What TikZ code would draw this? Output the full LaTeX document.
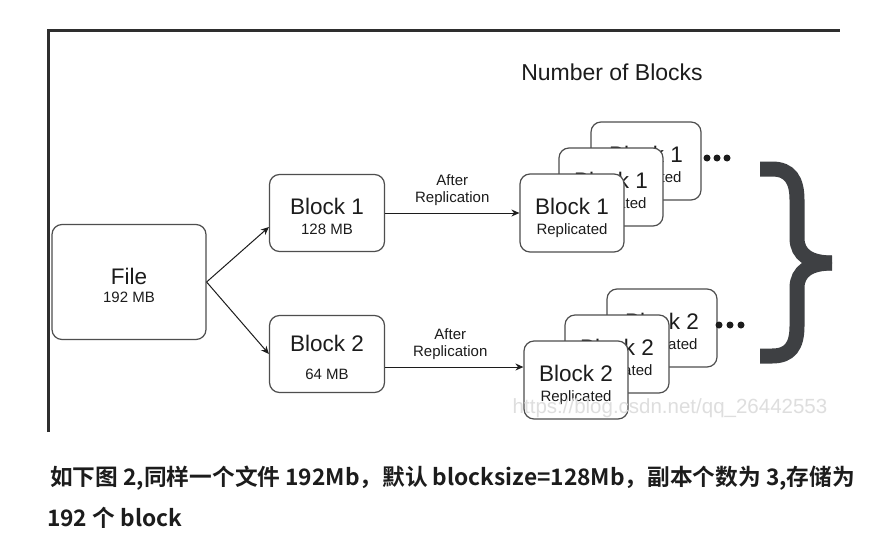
\documentclass[tikz,border=0pt]{standalone}
\usepackage{fontspec}
\setmainfont{Liberation Sans}
\newfontfamily\cjkfont{Noto Sans CJK SC Bold}
\usetikzlibrary{arrows.meta}

\definecolor{boxline}{HTML}{4E4E4E}
\definecolor{ink}{HTML}{1C1C1C}
\definecolor{bracegray}{HTML}{3E4043}
\definecolor{framegray}{HTML}{2E2E2E}

\newcommand\bigfont{\fontsize{22.5}{26}\selectfont}
\newcommand\subfont{\fontsize{15}{17}\selectfont}
\newcommand\topgap{\rule{0pt}{22pt}}

\tikzset{
  blockbox/.style={draw=boxline, line width=1.2pt, rounded corners=10pt, fill=white,
    text=ink, align=center, font=\bigfont, inner sep=0pt, text depth=-5pt,
    minimum width=115pt, minimum height=77pt},
  repbox/.style={blockbox, text depth=-6pt, minimum width=104pt, minimum height=78pt},
  arr/.style={draw=ink, line width=1pt, -{Stealth[length=8pt,width=7pt]}},
  note/.style={text=ink, align=center, font=\subfont, inner sep=1pt},
  brace/.style={draw=bracegray, line width=15pt, line cap=butt}
}

\begin{document}
\begin{tikzpicture}[x=1pt, y=-1pt]
\useasboundingbox[fill=white] (0,0) rectangle (882,533);

% frame of the screenshot
\draw[framegray, line width=3pt] (48.5,432) -- (48.5,30) -- (840,30);

\node[text=ink, font=\fontsize{23}{26}\selectfont] (title) at (612,72) {Number of Blocks};

% file and its blocks
\node[blockbox, text depth=-7pt, minimum width=154pt, minimum height=115pt] (file) at (129,282)
  {\topgap File\\[-8pt]{\subfont 192 MB}};
\node[blockbox] (b1) at (327,213) {\topgap Block 1\\[-6pt]{\subfont 128 MB}};
\node[blockbox] (b2) at (327,354) {\topgap Block 2\\[2pt]{\subfont 64 MB}};

\draw[arr] (file.east) -- ([yshift=-14pt]b1.west);
\draw[arr] (file.east) -- (b2.west);

% replicated copies, back to front
\node[repbox, minimum width=110pt] (r1a) at (646,161) {\topgap Block 1\\[-6pt]{\subfont Replicated}};
\node[repbox] (r1b) at (611,187) {\topgap Block 1\\[-6pt]{\subfont Replicated}};
\node[repbox] (r1c) at (572,213) {\topgap Block 1\\[-6pt]{\subfont Replicated}};

\node[repbox, minimum width=110pt] (r2a) at (662,328) {\topgap Block 2\\[-6pt]{\subfont Replicated}};
\node[repbox] (r2b) at (617,354) {\topgap Block 2\\[-6pt]{\subfont Replicated}};
\node[repbox] (r2c) at (576,380) {\topgap Block 2\\[-6pt]{\subfont Replicated}};

\draw[arr] (b1.east) -- (b1.east -| r1c.west)
  node[note, midway, above=6pt] (rep1) {After\\Replication};
\coordinate (b2out) at ([yshift=-13pt]b2.east);
\draw[arr] (b2out) -- (b2out -| r2c.west)
  node[note, midway, above=6pt, xshift=-4pt] (rep2) {After\\Replication};

% dots
\foreach \i in {0,1,2}
{
\fill[ink] (707+10*\i,158) circle (3.5pt);
\fill[ink] (719+11*\i,325) circle (3.5pt);
}

% brace
\draw[brace] (760,169) -- (772,169) .. controls (790,169) and (797,180) .. (797,200)
  -- (797,238) .. controls (797,255) and (810,263) .. (832,263);
\draw[brace] (832,263) .. controls (810,263) and (797,271) .. (797,288)
  -- (797,326) .. controls (797,346) and (790,356) .. (772,356) -- (760,356);

\node[text=black!13, font=\fontsize{20.5}{22}\selectfont] (mark) at (670,408)
  {https://blog.csdn.net/qq\_26442553};

% caption
\node[anchor=west, text=ink, font=\cjkfont\fontsize{22.7}{26}\selectfont, inner sep=0pt] (cap1) at (50,478)
  {如下图 2,同样一个文件 192Mb，默认 blocksize=128Mb，副本个数为 3,存储为};
\node[anchor=west, text=ink, font=\cjkfont\fontsize{22.7}{26}\selectfont, inner sep=0pt] (cap2) at (47,518)
  {192 个 block};
\end{tikzpicture}
\end{document}
